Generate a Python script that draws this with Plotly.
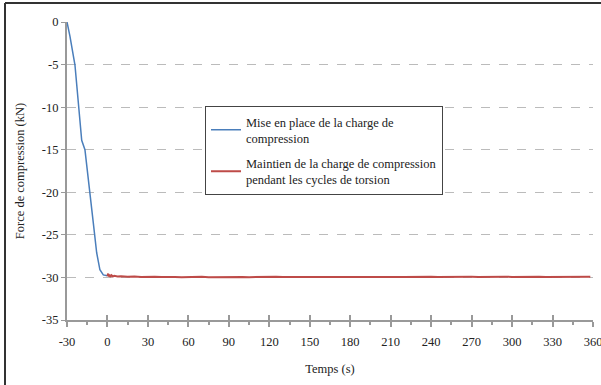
import plotly.graph_objects as go

# Blue series: loading of the compression force
t_load = [-30, -27.8, -24.1, -21.6, -19.1, -16.7, -15.5, -13.5, -10.5, -8, -5.6, -3.1, -1.5, 0]
f_load = [0, -1.7, -5.05, -9.95, -13.9, -15.0, -16.8, -19.7, -23.6, -27.1, -29.1, -29.7, -29.8, -29.8]

# Red series: holding the compression force during torsion cycles
t_hold = [0, 0.5, 1, 1.5, 2, 3, 4, 5, 7.5, 10, 15, 20, 25, 30, 35, 40, 45, 50, 55, 60,
          65, 70, 75, 80, 85, 90, 95, 100, 105, 110, 115, 120, 125, 130, 135, 140,
          145, 150, 155, 160, 165, 170, 175, 180, 185, 190, 195, 200, 205, 210, 215,
          220, 225, 230, 235, 240, 245, 250, 255, 260, 265, 270, 275, 280, 285, 290,
          295, 300, 305, 310, 315, 320, 325, 330, 335, 340, 345, 350, 355, 358]
f_hold = [-29.85, -29.55, -29.9, -29.65, -29.95, -29.75, -29.9, -29.8, -29.88, -29.85,
          -29.92, -29.88, -29.95, -29.9, -29.93, -29.96, -29.92, -29.95, -29.97, -29.94,
          -29.96, -29.93, -29.97, -29.95, -29.94, -29.96, -29.93, -29.95, -29.97, -29.94,
          -29.96, -29.95, -29.93, -29.96, -29.94, -29.95, -29.97, -29.94, -29.96, -29.93,
          -29.95, -29.94, -29.96, -29.95, -29.93, -29.96, -29.94, -29.95, -29.93, -29.96,
          -29.94, -29.95, -29.93, -29.96, -29.94, -29.92, -29.95, -29.93, -29.94, -29.92,
          -29.95, -29.93, -29.94, -29.92, -29.95, -29.93, -29.92, -29.94, -29.92, -29.95,
          -29.93, -29.92, -29.94, -29.93, -29.92, -29.94, -29.93, -29.92, -29.94, -29.93]

x_ticks = [-30, 0, 30, 60, 90, 120, 150, 180, 210, 240, 270, 300, 330, 360]
y_ticks = [0, -5, -10, -15, -20, -25, -30, -35]

FONT = "Times New Roman, serif"
FS = 12.5

fig = go.Figure()
fig.add_trace(go.Scatter(x=t_load, y=f_load, mode="lines", legendgroup="a",
                         line=dict(color="#4a7ebb", width=1.5),
                         name="Mise en place de la charge de<br>compression"))
fig.add_trace(go.Scatter(x=t_hold, y=f_hold, mode="lines", legendgroup="b",
                         line=dict(color="#be4b48", width=2),
                         name="Maintien de la charge de compression<br>pendant les cycles de torsion"))
# invisible trace on overlay axis for crossing ticks
fig.add_trace(go.Scatter(x=[-30, 360], y=[-35, -35], mode="lines", xaxis="x2",
                         line=dict(color="rgba(0,0,0,0)"), showlegend=False, hoverinfo="skip"))

L, R, T, B = 67, 8, 22, 65
W, H = 601, 385
pw, ph = W - L - R, H - T - B

fig.update_layout(
    width=W, height=H,
    margin=dict(l=L, r=R, t=T, b=B, autoexpand=False),
    paper_bgcolor="white", plot_bgcolor="white",
    font=dict(family=FONT, size=FS, color="#222"),
    showlegend=True,
    legend=dict(x=(205 - L) / pw, y=(T + ph - 106) / ph, xanchor="left", yanchor="top",
                bgcolor="white", bordercolor="#444", borderwidth=1,
                font=dict(family=FONT, size=FS, color="#222"),
                tracegroupgap=6, itemwidth=30),
    xaxis=dict(range=[-30, 360], tickvals=x_ticks, ticktext=[str(v) for v in x_ticks],
               showgrid=False, zeroline=False, showline=True, linecolor="#999", linewidth=1.5,
               ticks="outside", ticklen=5, tickcolor="#999", tickwidth=1.5,
               ticklabeloverflow="allow", automargin=False, ticklabelstandoff=4,
               minor=dict(dtick=15, tick0=-30, ticks="outside", ticklen=3, tickcolor="#999", showgrid=False),
               title=dict(text="Temps (s)", font=dict(family=FONT, size=FS), standoff=16),
               tickfont=dict(family=FONT, size=FS)),
    xaxis2=dict(range=[-30, 360], overlaying="x", side="bottom", tickvals=x_ticks,
                showticklabels=False, showgrid=False, zeroline=False,
                ticks="inside", ticklen=5, tickcolor="#999", tickwidth=1.5),
    yaxis=dict(range=[-35, 0], tickvals=y_ticks, ticktext=[str(v) for v in y_ticks],
               showgrid=True, gridcolor="#bbb", griddash="dash", gridwidth=1,
               zeroline=False, showline=True, linecolor="#999", linewidth=2,
               ticks="outside", ticklen=4, tickcolor="#999", automargin=False,
               title=dict(text="Force de compression (kN)", font=dict(family=FONT, size=FS), standoff=14),
               tickfont=dict(family=FONT, size=FS)),
)

# outer frame (top and left edges visible)
x5 = (5 - L) / pw
y3 = (H - B - 3) / ph
fig.add_shape(type="line", xref="paper", yref="paper", x0=x5, x1=(W + 5 - L) / pw, y0=y3, y1=y3,
              line=dict(color="#333", width=2))
fig.add_shape(type="line", xref="paper", yref="paper", x0=x5, x1=x5, y0=y3, y1=(H - B - H - 5) / ph,
              line=dict(color="#333", width=2))

fig.write_html("out.html", config={"displayModeBar": False},
               post_script="document.body.style.margin='0';document.body.style.overflow='hidden';")
